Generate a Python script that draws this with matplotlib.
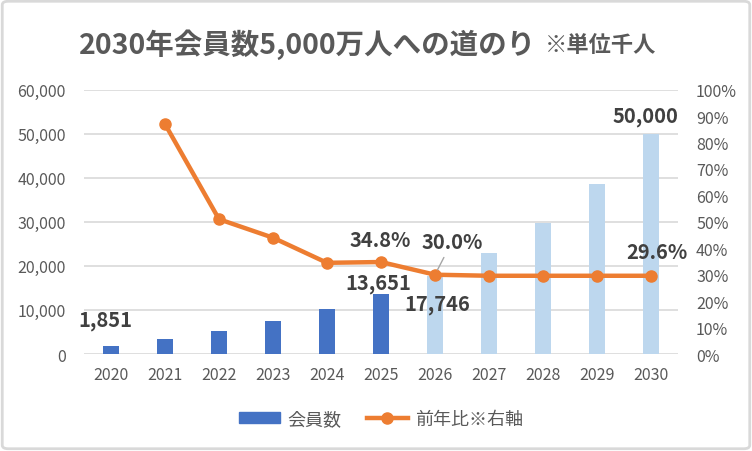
import numpy as np
import matplotlib
matplotlib.use('Agg')
import matplotlib.pyplot as plt
from matplotlib.patches import FancyBboxPatch, Patch
from matplotlib.lines import Line2D
from matplotlib.ticker import FuncFormatter, MultipleLocator

plt.rcParams['font.family'] = ['Noto Sans CJK JP', 'DejaVu Sans']

# data (thousand members / year-over-year growth)
years = ['2020', '2021', '2022', '2023', '2024', '2025', '2026', '2027', '2028', '2029', '2030']
members = [1851, 3461, 5226, 7526, 10122, 13651, 17746, 23000, 29808, 38631, 50000]
growth = [np.nan, 0.87, 0.51, 0.44, 0.345, 0.348, 0.300, 0.296, 0.296, 0.296, 0.296]
actual_years = 6  # 2020-2025 are actual, rest are targets

title_main = '2030年会員数5,000万人への道のり'
title_note = '※単位千人'

dark_blue = '#4472C4'
light_blue = '#BDD7EE'
orange = '#ED7D31'
text_gray = '#595959'
label_gray = '#404040'

fig = plt.figure(figsize=(7.52, 4.52), dpi=100)
ax = fig.add_axes([84 / 752, 1 - 355 / 452, 594 / 752, 264.3 / 452])
ax2 = ax.twinx()

x = np.arange(len(years))
colors = [dark_blue if i < actual_years else light_blue for i in range(len(years))]
ax.bar(x, members, width=0.29, color=colors, zorder=2)

ax.set_xlim(-0.5, len(years) - 0.5)
ax.set_ylim(0, 60000)
ax.yaxis.set_major_locator(MultipleLocator(10000))
ax.yaxis.set_major_formatter(FuncFormatter(lambda v, p: f'{int(v):,}'))
ax.grid(axis='y', color='#D9D9D9', lw=1.2, zorder=0)
ax.set_axisbelow(True)
ax.set_xticks(x)
ax.set_xticklabels(years)
ax.tick_params(axis='both', length=0, colors=text_gray, labelsize=11.5)
ax.tick_params(axis='y', pad=13)
ax.tick_params(axis='x', pad=9)
for s in ax.spines.values():
    s.set_visible(False)

ax2.plot(x, growth, color=orange, lw=3.2, marker='o', markersize=8, zorder=3)
ax2.set_ylim(0, 1.0)
ax2.yaxis.set_major_locator(MultipleLocator(0.1))
ax2.yaxis.set_major_formatter(FuncFormatter(lambda v, p: f'{v * 100:.0f}%'))
ax2.tick_params(axis='y', length=0, colors=text_gray, labelsize=11.5, pad=13)
for s in ax2.spines.values():
    s.set_visible(False)

lab = dict(fontsize=14.5, fontweight='bold', color=label_gray, ha='center', va='center',
           textcoords='offset pixels')
ax.annotate(f'{members[0]:,}', xy=(0, members[0]), xytext=(-6, 26), **lab)
ax.annotate(f'{members[5]:,}', xy=(5, members[5]), xytext=(-3, 11), **lab)
ax.annotate(f'{members[6]:,}', xy=(6, members[6]), xytext=(2, -28), **lab)
ax.annotate(f'{members[10]:,}', xy=(10, members[10]), xytext=(-6, 18), **lab)
ax2.annotate(f'{growth[5] * 100:.1f}%', xy=(5, growth[5]), xytext=(-1, 23), **lab)
ax2.annotate(f'{growth[6] * 100:.1f}%', xy=(6, growth[6]), xytext=(17, 33),
             arrowprops=dict(arrowstyle='-', color='#A6A6A6', lw=1, shrinkA=2, shrinkB=4), **lab)
ax2.annotate(f'{growth[10] * 100:.1f}%', xy=(10, growth[10]), xytext=(6, 24), **lab)

fig.text(536 / 752, 1 - 45 / 452, title_main, ha='right', va='center',
         fontsize=20.5, fontweight='bold', color=text_gray)
fig.text(545 / 752, 1 - 46 / 452, title_note, ha='left', va='center',
         fontsize=16, fontweight='bold', color=text_gray)

handles = [Patch(color=dark_blue),
           Line2D([0], [0], color=orange, lw=3.2, marker='o', markersize=8)]
fig.legend(handles, ['会員数', '前年比※右軸'], loc='center', ncol=2, frameon=False,
           bbox_to_anchor=(381 / 752, 1 - 420 / 452), fontsize=13,
           handlelength=2.3, handleheight=0.6, columnspacing=1.4, handletextpad=0.4,
           labelcolor=text_gray)

fig.patches.append(FancyBboxPatch((0.003, 0.005), 0.994, 0.99,
                                  boxstyle='round,pad=0,rounding_size=0.008',
                                  transform=fig.transFigure, fill=False,
                                  edgecolor='#D9D9D9', lw=2))

fig.savefig('out.png', dpi=100)
